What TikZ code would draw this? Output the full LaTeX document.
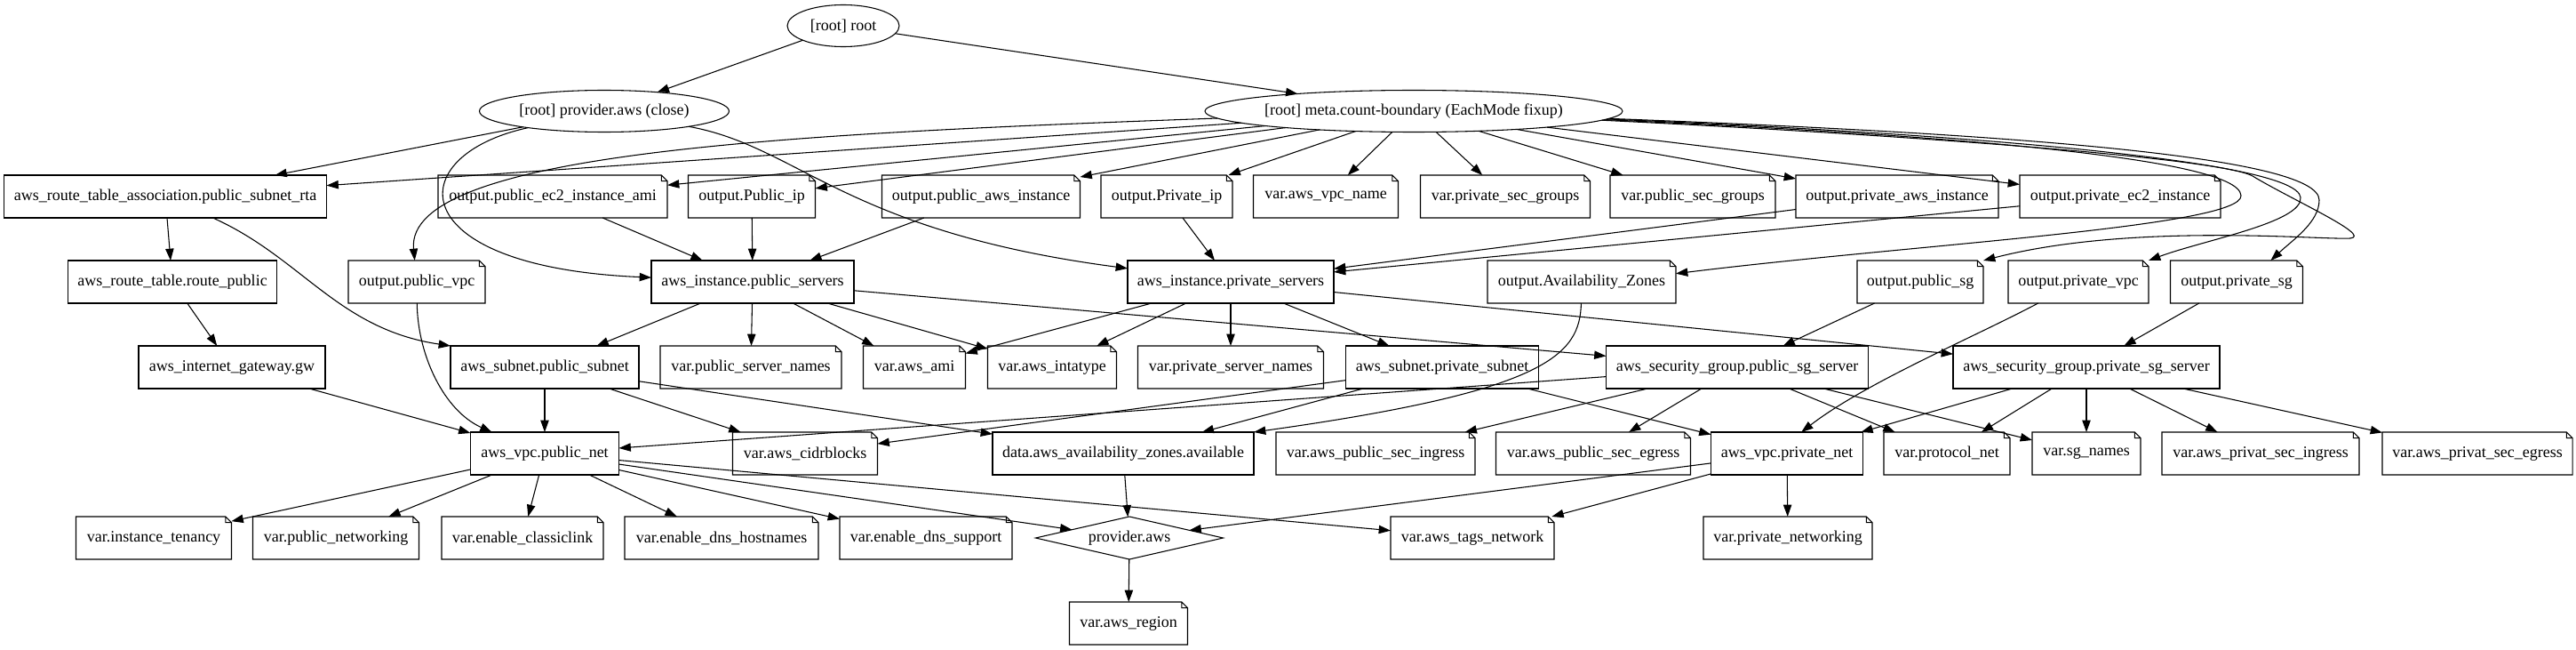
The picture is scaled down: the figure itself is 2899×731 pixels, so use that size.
\documentclass[tikz,border=0pt]{standalone}
\usepackage{fontspec}
\setmainfont{Liberation Serif}
\usetikzlibrary{arrows.meta,shapes.geometric}
\makeatletter
\pgfdeclareshape{notefold}{
  \inheritsavedanchors[from=rectangle]
  \inheritanchorborder[from=rectangle]
  \inheritanchor[from=rectangle]{center}
  \inheritanchor[from=rectangle]{north}
  \inheritanchor[from=rectangle]{south}
  \inheritanchor[from=rectangle]{east}
  \inheritanchor[from=rectangle]{west}
  \inheritanchor[from=rectangle]{north east}
  \inheritanchor[from=rectangle]{north west}
  \inheritanchor[from=rectangle]{south east}
  \inheritanchor[from=rectangle]{south west}
  \backgroundpath{
    \southwest \pgf@xa=\pgf@x \pgf@ya=\pgf@y
    \northeast \pgf@xb=\pgf@x \pgf@yb=\pgf@y
    \pgf@xc=\pgf@xb \advance\pgf@xc by -5pt
    \pgf@yc=\pgf@yb \advance\pgf@yc by -5pt
    \pgfpathmoveto{\pgfqpoint{\pgf@xa}{\pgf@ya}}
    \pgfpathlineto{\pgfqpoint{\pgf@xa}{\pgf@yb}}
    \pgfpathlineto{\pgfqpoint{\pgf@xc}{\pgf@yb}}
    \pgfpathlineto{\pgfqpoint{\pgf@xb}{\pgf@yc}}
    \pgfpathlineto{\pgfqpoint{\pgf@xb}{\pgf@ya}}
    \pgfpathclose
    \pgfpathmoveto{\pgfqpoint{\pgf@xc}{\pgf@yb}}
    \pgfpathlineto{\pgfqpoint{\pgf@xc}{\pgf@yc}}
    \pgfpathlineto{\pgfqpoint{\pgf@xb}{\pgf@yc}}
  }
}
\makeatother
\begin{document}
\begin{tikzpicture}[x=0.75pt,y=-0.75pt,line width=0.8pt,
  every node/.style={font=\fontsize{13.5}{16}\selectfont, inner sep=0pt, outer sep=0pt, minimum height=36pt},
  rbox/.style={rectangle, draw},
  nbox/.style={notefold, draw},
  oval/.style={ellipse, draw, minimum height=35.25pt},
  dia/.style={diamond, draw, aspect=4.4},
  bw/.style={minimum width=#1*0.75pt},
  conn/.style={draw, -{Triangle[length=10pt,width=7pt]}}]
\fill[white] (0,0) rectangle (2899,731);
\useasboundingbox (0,0) rectangle (2899,731);
% row 0-1
\node[oval,bw=126] (root) at (949,29) {[root] root};
\node[oval,bw=281] (pclose) at (680,125) {[root] provider.aws (close)};
\node[oval,bw=470,inner xsep=-3pt] (meta) at (1591,125) {[root] meta.count-boundary (EachMode fixup)};
% row 2
\node[rbox,bw=363] (rta) at (186,221) {aws\_route\_table\_association.public\_subnet\_rta};
\node[nbox,bw=258] (oami) at (622,221) {output.public\_ec2\_instance\_ami};
\node[nbox,bw=143] (opubip) at (846,221) {output.Public\_ip};
\node[nbox,bw=223] (opubinst) at (1104,221) {output.public\_aws\_instance};
\node[nbox,bw=148] (oprivip) at (1313,221) {output.Private\_ip};
\node[nbox,bw=163] (vvpcname) at (1492,221) {var.aws\_vpc\_name};
\node[nbox,bw=191] (vprivsg) at (1694,221) {var.private\_sec\_groups};
\node[nbox,bw=186] (vpubsg) at (1905,221) {var.public\_sec\_groups};
\node[nbox,bw=228] (oprivinst) at (2135,221) {output.private\_aws\_instance};
\node[nbox,bw=226] (oprivec2) at (2386,221) {output.private\_ec2\_instance};
% row 3
\node[rbox,bw=235] (rtpub) at (194,317) {aws\_route\_table.route\_public};
\node[nbox,bw=154] (opubvpc) at (469,317) {output.public\_vpc};
\node[rbox,bw=228] (pubsrv) at (847,317) {aws\_instance.public\_servers};
\node[rbox,bw=232] (privsrv) at (1385,317) {aws\_instance.private\_servers};
\node[nbox,bw=212] (oaz) at (1780,317) {output.Availability\_Zones};
\node[nbox,bw=142] (opubsg) at (2161,317) {output.public\_sg};
\node[nbox,bw=158] (oprivvpc) at (2339,317) {output.private\_vpc};
\node[nbox,bw=149] (oprivsgo) at (2517,317) {output.private\_sg};
% row 4
\node[rbox,bw=210] (igw) at (261,413) {aws\_internet\_gateway.gw};
\node[rbox,bw=212] (pubsub) at (613,413) {aws\_subnet.public\_subnet};
\node[nbox,bw=204] (vpubnames) at (845,413) {var.public\_server\_names};
\node[nbox,bw=115] (vami) at (1029,413) {var.aws\_ami};
\node[nbox,bw=145] (vinst) at (1184,413) {var.aws\_intatype};
\node[nbox,bw=209] (vprivnames) at (1385,413) {var.private\_server\_names};
\node[rbox,bw=217] (privsub) at (1623,413) {aws\_subnet.private\_subnet};
\node[rbox,bw=295] (pubsgs) at (1955,413) {aws\_security\_group.public\_sg\_server};
\node[rbox,bw=300] (privsgs) at (2348,413) {aws\_security\_group.private\_sg\_server};
% row 5
\node[rbox,bw=167] (pubnet) at (613,510) {aws\_vpc.public\_net};
\node[nbox,bw=163] (vcidr) at (906,510) {var.aws\_cidrblocks};
\node[rbox,bw=294] (daz) at (1264,510) {data.aws\_availability\_zones.available};
\node[nbox,bw=224] (vpubin) at (1548,510) {var.aws\_public\_sec\_ingress};
\node[nbox,bw=219] (vpubeg) at (1793,510) {var.aws\_public\_sec\_egress};
\node[rbox,bw=171] (privnet) at (2011,510) {aws\_vpc.private\_net};
\node[nbox,bw=142] (vproto) at (2191,510) {var.protocol\_net};
\node[nbox,bw=122] (vsgn) at (2348,510) {var.sg\_names};
\node[nbox,bw=222] (vprivin) at (2544,510) {var.aws\_privat\_sec\_ingress};
\node[nbox,bw=214] (vpriveg) at (2788,510) {var.aws\_privat\_sec\_egress};
% row 6
\node[nbox,bw=175] (vten) at (173,605) {var.instance\_tenancy};
\node[nbox,bw=187] (vpubnw) at (378,605) {var.public\_networking};
\node[nbox,bw=182] (vcl) at (588,605) {var.enable\_classiclink};
\node[nbox,bw=218] (vdnsh) at (812,605) {var.enable\_dns\_hostnames};
\node[nbox,bw=194] (vdnss) at (1042,605) {var.enable\_dns\_support};
\node[dia,bw=211] (prov) at (1271,605) {provider.aws};
\node[nbox,bw=184] (vtags) at (1657,605) {var.aws\_tags\_network};
\node[nbox,bw=190] (vprivnw) at (2012,605) {var.private\_networking};
% row 7
\node[nbox,bw=133] (vregion) at (1270,701) {var.aws\_region};
% straight connectors
\foreach \a/\b in {root/pclose, root/meta, pclose/rta, meta/rta, meta/oami, meta/opubip,
  meta/opubinst, meta/oprivip, meta/vvpcname, meta/vprivsg, meta/vpubsg, meta/oprivinst,
  meta/oprivec2, rta/rtpub, oami/pubsrv, opubip/pubsrv, opubinst/pubsrv, oprivip/privsrv,
  oprivinst/privsrv, oprivec2/privsrv, opubsg/pubsgs, oprivsgo/privsgs, rtpub/igw, igw/pubnet,
  pubsrv/pubsub, pubsrv/vpubnames, pubsrv/vami, pubsrv/vinst, pubsrv/pubsgs, privsrv/vami,
  privsrv/vinst, privsrv/vprivnames, privsrv/privsub, privsrv/privsgs, pubsub/pubnet,
  pubsub/vcidr, pubsub/daz, privsub/vcidr, privsub/daz, privsub/privnet, pubsgs/pubnet,
  pubsgs/vpubin, pubsgs/vpubeg, pubsgs/vproto, pubsgs/vsgn, privsgs/privnet, privsgs/vproto,
  privsgs/vsgn, privsgs/vprivin, privsgs/vpriveg, pubnet/vten, pubnet/vpubnw, pubnet/vcl,
  pubnet/vdnsh, pubnet/vdnss, pubnet/prov, pubnet/vtags, daz/prov, privnet/prov,
  privnet/vtags, privnet/vprivnw, prov/vregion}
  \draw[conn] (\a) -- (\b);
% curved connectors
\draw[conn] (pclose) .. controls (450,175) and (450,300) .. (pubsrv);
\draw[conn] (pclose) .. controls (900,165) and (950,260) .. (privsrv);
\draw[conn] (meta) .. controls (900,150) and (455,170) .. (opubvpc);
\draw[conn] (meta) .. controls (2150,150) and (2520,175) .. (2522,220) .. controls (2524,255) and (2150,275) .. (oaz.5);
\draw[conn] (meta) .. controls (2150,152) and (2500,178) .. (2535,198) .. controls (2580,225) and (2670,265) .. (2645,268) .. controls (2610,270) and (2400,250) .. (opubsg.north east);
\draw[conn] (meta) .. controls (2200,150) and (2585,180) .. (2589,222) .. controls (2592,250) and (2480,270) .. (oprivvpc.north east);
\draw[conn] (meta) .. controls (2250,150) and (2610,175) .. (2610,225) .. controls (2610,250) and (2580,270) .. (oprivsgo.32);
\draw[conn] (rta) .. controls (340,290) and (380,370) .. (pubsub.north west);
\draw[conn] (opubvpc) .. controls (470,400) and (500,462) .. (pubnet.158);
\draw[conn] (oaz) .. controls (1778,400) and (1740,440) .. (daz.north east);
\draw[conn] (oprivvpc) .. controls (2220,380) and (2100,430) .. (privnet.56);
\end{tikzpicture}
\end{document}
